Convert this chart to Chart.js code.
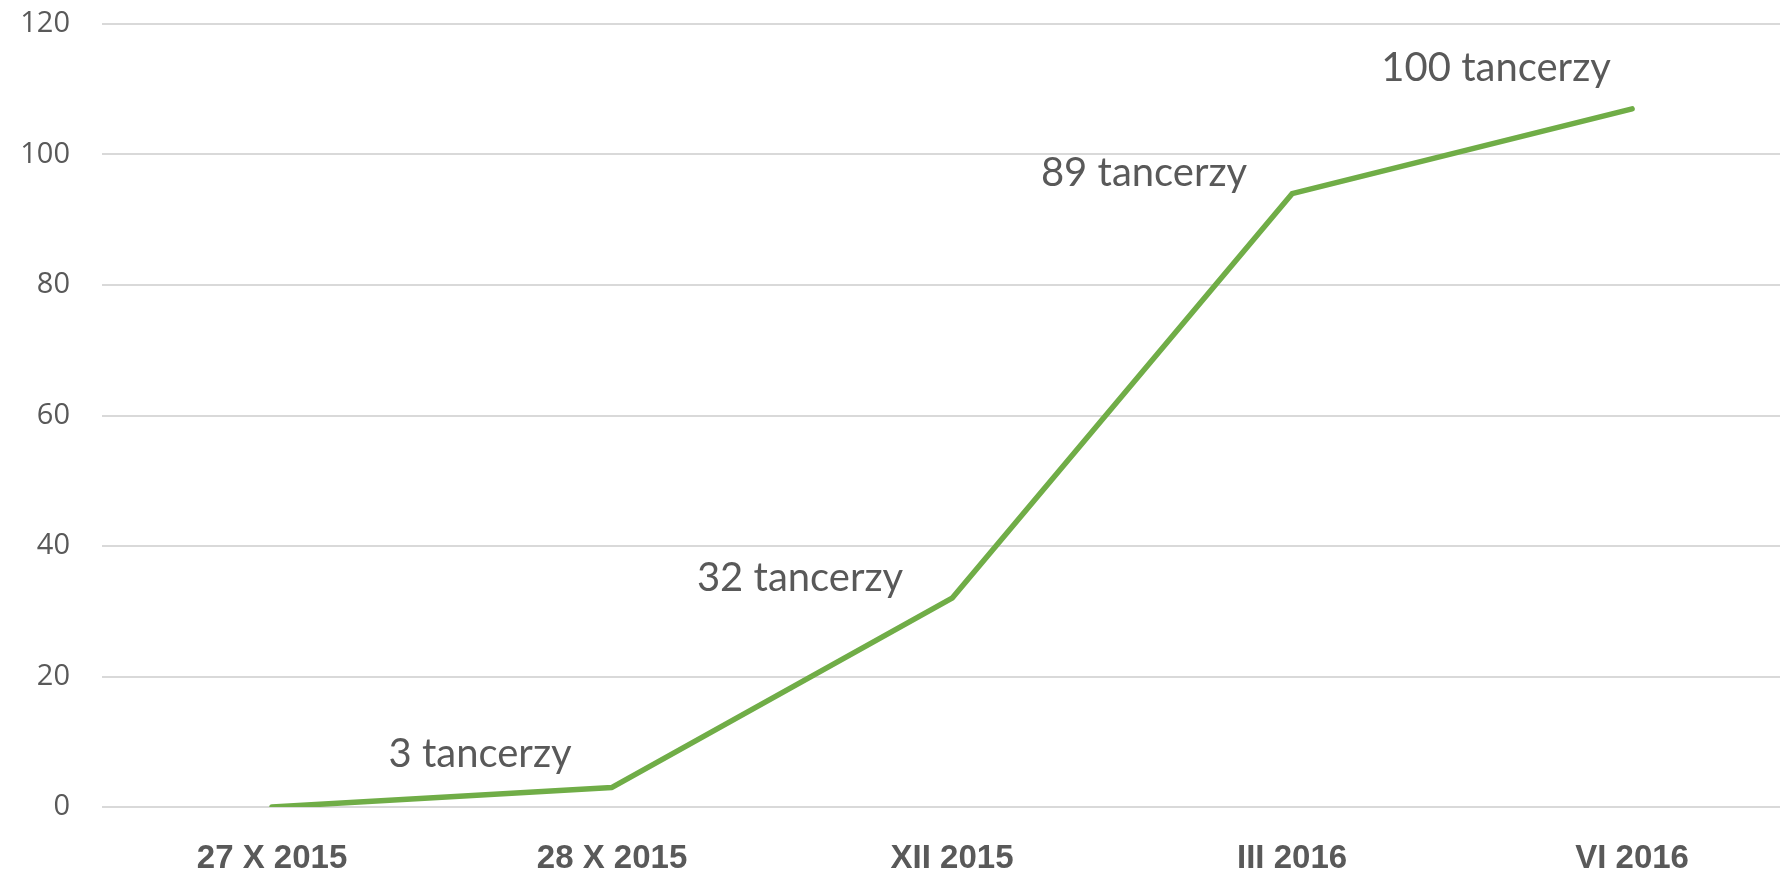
<!DOCTYPE html>
<html>
<head>
<meta charset="utf-8">
<script src="https://cdn.jsdelivr.net/npm/chart.js@4"></script>
<style>
  html, body { margin: 0; padding: 0; background: #fff; overflow: hidden; }
  #wrap { width: 1780px; height: 872px; }
</style>
</head>
<body>
<div id="wrap"><canvas id="tancerzeChart" width="1780" height="872"></canvas></div>
<script>
// dane wykresu
const categories = ['27 X 2015', '28 X 2015', 'XII 2015', 'III 2016', 'VI 2016'];
const dancers = [0, 3, 32, 94, 107];
const pointLabels = ['', '3 tancerzy', '32 tancerzy', '89 tancerzy', '100 tancerzy'];
const yTicks = [0, 20, 40, 60, 80, 100, 120];

const grey = '#595959';

// przesunięcia etykiet względem punktów (px)
const labelOffsets = [null, [-132, -33], [-152, -20], [-148, -21], [-136, -41]];

const pointLabelPlugin = {
    id: 'pointLabels',
    afterDatasetsDraw(chart) {
        const ctx = chart.ctx;
        const meta = chart.getDatasetMeta(0);
        ctx.save();
        ctx.font = '40px Lato, "Open Sans", sans-serif';
        ctx.fillStyle = grey;
        ctx.textAlign = 'center';
        ctx.textBaseline = 'middle';
        meta.data.forEach(function(pt, i) {
            if (!pointLabels[i] || !labelOffsets[i]) return;
            ctx.fillText(pointLabels[i], pt.x + labelOffsets[i][0], pt.y + labelOffsets[i][1]);
        });
        ctx.restore();
    }
};

const ctx = document.getElementById('tancerzeChart').getContext('2d');
new Chart(ctx, {
    type: 'line',
    data: {
        datasets: [{
            data: dancers.map((v, i) => ({ x: i, y: v })),
            borderColor: '#70AD47',
            borderWidth: 5.5,
            borderCapStyle: 'round',
            borderJoinStyle: 'round',
            pointRadius: 0,
            tension: 0,
            fill: false
        }]
    },
    options: {
        responsive: false,
        animation: false,
        events: [],
        layout: { padding: { top: 24, right: 0, left: 0, bottom: 0 } },
        plugins: {
            legend: { display: false },
            tooltip: { enabled: false }
        },
        scales: {
            x: {
                type: 'linear',
                min: -0.5,
                max: 4.435,
                grid: { display: false },
                border: { display: false },
                afterBuildTicks: axis => { axis.ticks = categories.map((c, i) => ({ value: i })); },
                afterFit: axis => {
                    axis.height = 65;
                    axis.paddingTop = 0; axis.paddingBottom = 0;
                    axis.paddingLeft = 0; axis.paddingRight = 0;
                },
                ticks: {
                    autoSkip: false,
                    maxRotation: 0,
                    padding: 24,
                    color: grey,
                    font: { family: '"Liberation Sans", Arial, sans-serif', size: 33, weight: 'bold' },
                    callback: v => categories[v] || ''
                }
            },
            y: {
                min: 0,
                max: 120,
                afterBuildTicks: axis => { axis.ticks = yTicks.map(v => ({ value: v })); },
                afterFit: axis => { axis.width = 102; axis.paddingTop = 0; axis.paddingBottom = 0; },
                grid: { color: '#d9d9d9', lineWidth: 2, drawTicks: false },
                border: { display: false },
                ticks: {
                    padding: 32,
                    color: grey,
                    font: { family: '"Open Sans", sans-serif', size: 29 }
                }
            }
        }
    },
    plugins: [pointLabelPlugin]
});
</script>
</body>
</html>
